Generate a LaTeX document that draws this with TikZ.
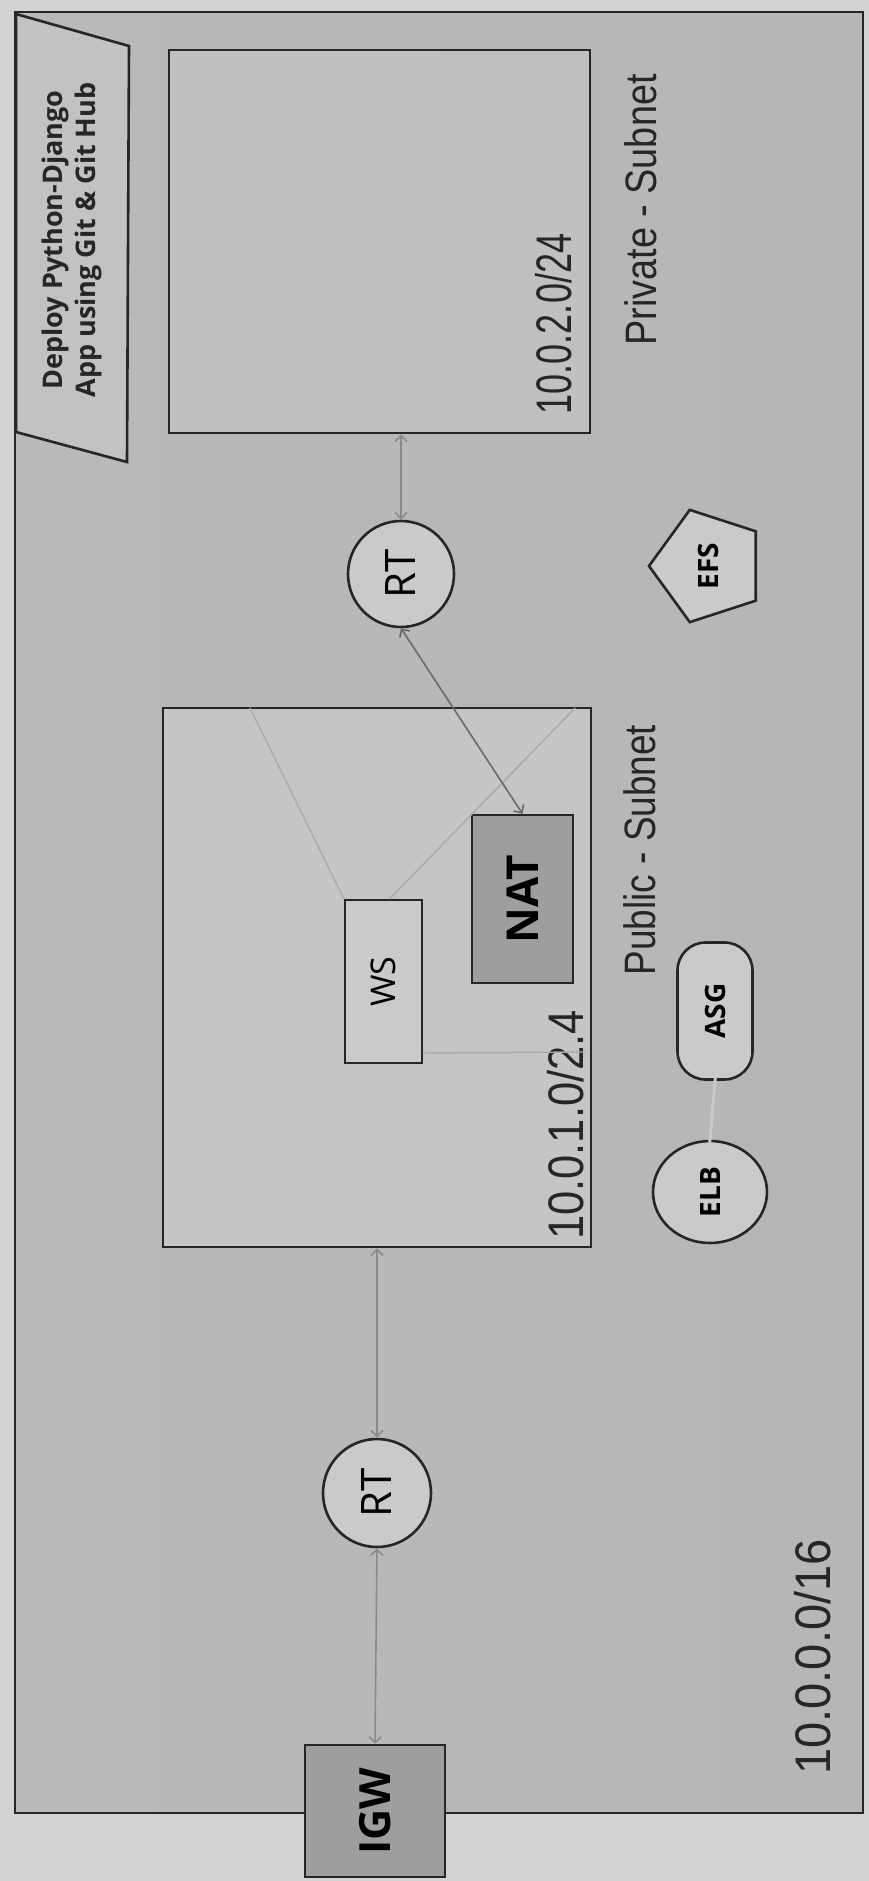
\documentclass[tikz,border=0pt]{standalone}
\usepackage{fontspec}
\usepackage{graphicx}
\setmainfont{Liberation Sans}
\newfontfamily\osans{Open Sans}
\usetikzlibrary{shapes.geometric,arrows.meta,calc}
\definecolor{bgout}{HTML}{D3D3D3}
\definecolor{vpcleft}{HTML}{B9B9B9}
\definecolor{vpcmid}{HTML}{C4C4C4}
\definecolor{vpcright}{HTML}{B6B6B6}
\definecolor{privfill}{HTML}{C0C0C0}
\definecolor{pubfill}{HTML}{C5C5C5}
\definecolor{titlefill}{HTML}{C2C2C2}
\definecolor{shapefill}{HTML}{CACACA}
\definecolor{darkfill}{HTML}{9E9E9E}
\definecolor{linec}{HTML}{262626}
\definecolor{connc}{HTML}{8A8A8A}
\definecolor{conndark}{HTML}{6A6A6A}
\definecolor{faintc}{HTML}{ABABAB}
\begin{document}
\begin{tikzpicture}[x=1pt,y=-1pt,
  outline/.style={draw=linec,line width=2.6pt,inner sep=0pt},
  conn/.style={draw=connc,line width=1.6pt,>={Straight Barb[length=6pt,width=12pt]},<->},
  faint/.style={draw=faintc,line width=1.4pt},
  hand/.style={text=linec,inner sep=0pt}
]
\useasboundingbox (0,0) rectangle (869,1881);
\fill[bgout] (0,0) rectangle (869,1881);

% VPC
\node[outline,left color=vpcleft,middle color=vpcmid,right color=vpcright,minimum width=848pt,minimum height=1801pt] (vpc) at (439,912.5) {};

% title parallelogram
\draw[draw=linec,line width=2.6pt,fill=titlefill] (16,14) -- (129,46) -- (127,462) -- (16,432) -- cycle;
\node[text=linec,inner sep=0pt] (title) at (72,240)
  {\rotatebox{90}{\osans\bfseries\fontsize{27}{33}\selectfont\begin{tabular}{@{}c@{}}Deploy Python-Django\\App using Git \& Git Hub\end{tabular}}};

% subnets
\node[outline,fill=privfill,minimum width=421pt,minimum height=383pt] (private) at (379.5,241.5) {};
\node[outline,fill=pubfill,minimum width=428pt,minimum height=539pt] (public) at (377,977.5) {};

% hand labels
\node[hand] (privcidr) at (554,324) {\rotatebox{90}{\scalebox{0.72}[1]{\fontsize{50}{60}\selectfont 10.0.2.0/24}}};
\node[hand] (pubcidr) at (566,1125) {\rotatebox{90}{\scalebox{0.87}[1]{\fontsize{50}{60}\selectfont 10.0.1.0/2.4}}};
\node[hand] (vpccidr) at (813,1657) {\rotatebox{90}{\scalebox{0.94}[1]{\fontsize{50}{60}\selectfont 10.0.0.0/16}}};
\node[hand] (privname) at (641,210) {\rotatebox{90}{\scalebox{0.86}[1]{\fontsize{44}{52}\selectfont Private - Subnet}}};
\node[hand] (pubname) at (640,850) {\rotatebox{90}{\scalebox{0.84}[1]{\fontsize{44}{52}\selectfont Public - Subnet}}};

% components
\node[outline,fill=shapefill,circle,minimum size=106pt] (rt1) at (401,574)
  {\rotatebox{90}{\osans\fontsize{42}{50}\selectfont RT}};
\node[outline,fill=shapefill,circle,minimum size=108pt] (rt2) at (377,1493)
  {\rotatebox{90}{\osans\fontsize{42}{50}\selectfont RT}};
\node[outline,fill=darkfill,minimum width=140pt,minimum height=132pt] (igw) at (375,1811)
  {\rotatebox{90}{\osans\bfseries\fontsize{43}{50}\selectfont IGW}};
\node[draw=linec,line width=2pt,inner sep=0pt,fill=shapefill,minimum width=77pt,minimum height=163pt] (ws) at (383.5,981.5)
  {\rotatebox{90}{\osans\fontsize{34}{40}\selectfont WS}};
\node[outline,fill=darkfill,minimum width=101pt,minimum height=168pt] (nat) at (522.5,899)
  {\rotatebox{90}{\osans\bfseries\fontsize{44}{52}\selectfont NAT}};
\node[outline,fill=shapefill,regular polygon,regular polygon sides=5,shape border rotate=90,minimum size=118pt] (efs) at (708,566)
  {\rotatebox{90}{\osans\bfseries\fontsize{28}{34}\selectfont EFS}};
\node[outline,fill=shapefill,ellipse,minimum width=114pt,minimum height=102pt] (elb) at (710,1192)
  {\rotatebox{90}{\osans\bfseries\fontsize{28}{34}\selectfont ELB}};
\node[outline,fill=shapefill,rounded corners=28pt,minimum width=75pt,minimum height=137pt] (asg) at (715,1011)
  {\rotatebox{90}{\osans\bfseries\fontsize{28}{34}\selectfont ASG}};

% faint lines
\coordinate (pa) at (250,708);
\coordinate (pb) at (575,708);
\coordinate (pc) at (585,1052);
\draw[faint] (ws.north west) -- (pa);
\draw[faint] ([xshift=6pt]ws.north) -- (pb);
\draw[faint] ([yshift=11pt]ws.south east) -- (pc);

% connectors
\draw[conn] (private.south -| rt1.north) -- (rt1.north);
\draw[conn,draw=conndark] (rt1.south) -- (nat.north);
\draw[conn] (public.south -| rt2.north) -- (rt2.north);
\draw[conn] (rt2.south) -- (igw.north);
\draw[draw=shapefill,line width=3pt,shorten <=-3pt,shorten >=-3pt] (asg.south) -- (elb.north);
\end{tikzpicture}
\end{document}
